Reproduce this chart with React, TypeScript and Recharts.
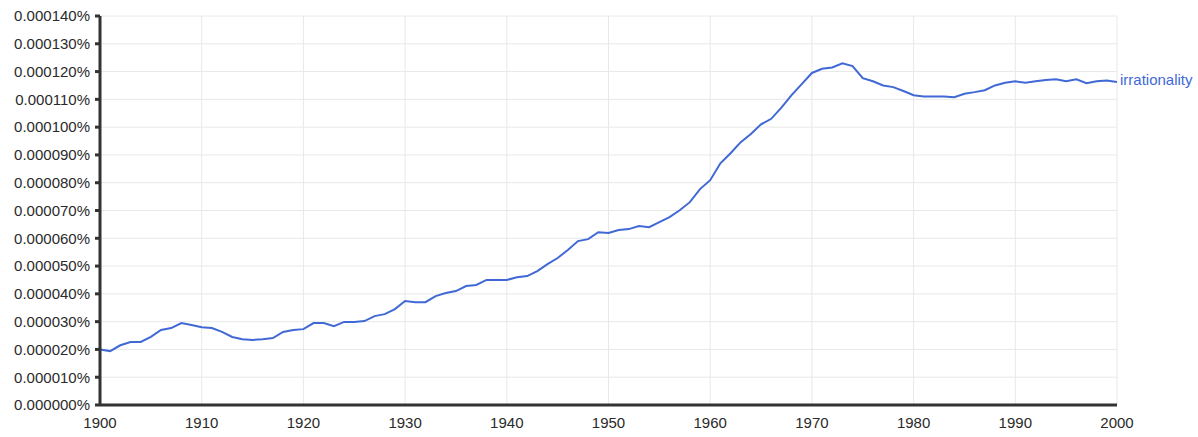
import React from "react";
import { LineChart, Line, XAxis, YAxis, CartesianGrid } from "recharts";

const SERIES_NAME = "irrationality";

const years: number[] = [];
for (let y = 1900; y <= 2000; y++) years.push(y);

// values in units of 0.00001%
const values: number[] = [
  2.0, 1.94, 2.15, 2.27, 2.27, 2.45, 2.7, 2.77, 2.95, 2.88,
  2.8, 2.77, 2.63, 2.45, 2.37, 2.34, 2.37, 2.41, 2.63, 2.7,
  2.73, 2.95, 2.95, 2.84, 2.99, 2.99, 3.02, 3.2, 3.27, 3.45,
  3.74, 3.7, 3.7, 3.92, 4.03, 4.1, 4.28, 4.32, 4.5, 4.5,
  4.5, 4.6, 4.64, 4.82, 5.07, 5.29, 5.58, 5.9, 5.97, 6.22,
  6.19, 6.3, 6.33, 6.44, 6.4, 6.58, 6.76, 7.01, 7.3, 7.77,
  8.09, 8.7, 9.06, 9.46, 9.75, 10.1, 10.3, 10.7, 11.15, 11.55,
  11.95, 12.1, 12.15, 12.3, 12.2, 11.76, 11.65, 11.5, 11.44, 11.3,
  11.15, 11.1, 11.1, 11.1, 11.08, 11.2, 11.26, 11.33, 11.5, 11.6,
  11.65, 11.6, 11.65, 11.7, 11.72, 11.65, 11.72, 11.58, 11.65, 11.68,
  11.62,
];

const xTicks = [1900, 1910, 1920, 1930, 1940, 1950, 1960, 1970, 1980, 1990, 2000];
const yTicks = [0, 1, 2, 3, 4, 5, 6, 7, 8, 9, 10, 11, 12, 13, 14];

const data = years.map((y, i) => ({ year: y, value: values[i] }));

const FONT = "'Liberation Sans', Arial, Helvetica, sans-serif";
const LINE_COLOR = "#4169d6";

export default function App() {
  const last = data.length - 1;
  return (
    <div style={{ position: "absolute", left: 0, top: 0, width: 1198, height: 437, fontFamily: FONT }}>
      <LineChart
        width={1198}
        height={437}
        data={data}
        margin={{ top: 16, right: 81, bottom: 2, left: 0 }}
      >
        <CartesianGrid stroke="#e8e8e8" strokeWidth={1} />
        <XAxis
          dataKey="year"
          type="number"
          domain={[1900, 2000]}
          ticks={xTicks}
          height={30}
          axisLine={{ stroke: "#333", strokeWidth: 3 }}
          tickLine={false}
          tickMargin={6}
          tick={{ fill: "#2a2a2a", fontSize: 15, fontFamily: FONT }}
          allowDataOverflow
        />
        <YAxis
          type="number"
          domain={[0, 14]}
          ticks={yTicks}
          width={100}
          axisLine={{ stroke: "#333", strokeWidth: 3 }}
          tickLine={{ stroke: "#333", strokeWidth: 3 }}
          tickSize={5}
          tickMargin={5}
          tick={{ fill: "#2a2a2a", fontSize: 15, fontFamily: FONT }}
          tickFormatter={(v: number) => (v / 100000).toFixed(6) + "%"}
          allowDataOverflow
        />
        <Line
          type="linear"
          dataKey="value"
          stroke={LINE_COLOR}
          strokeWidth={2}
          dot={false}
          isAnimationActive={false}
          label={(props: any) =>
            props.index === last ? (
              <text
                key="lbl"
                x={props.x + 3}
                y={props.y - 2}
                dy="0.35em"
                fill={LINE_COLOR}
                fontSize={15}
                fontFamily={FONT}
              >
                {SERIES_NAME}
              </text>
            ) : (
              <g key={"l" + props.index} />
            )
          }
        />
      </LineChart>
    </div>
  );
}
